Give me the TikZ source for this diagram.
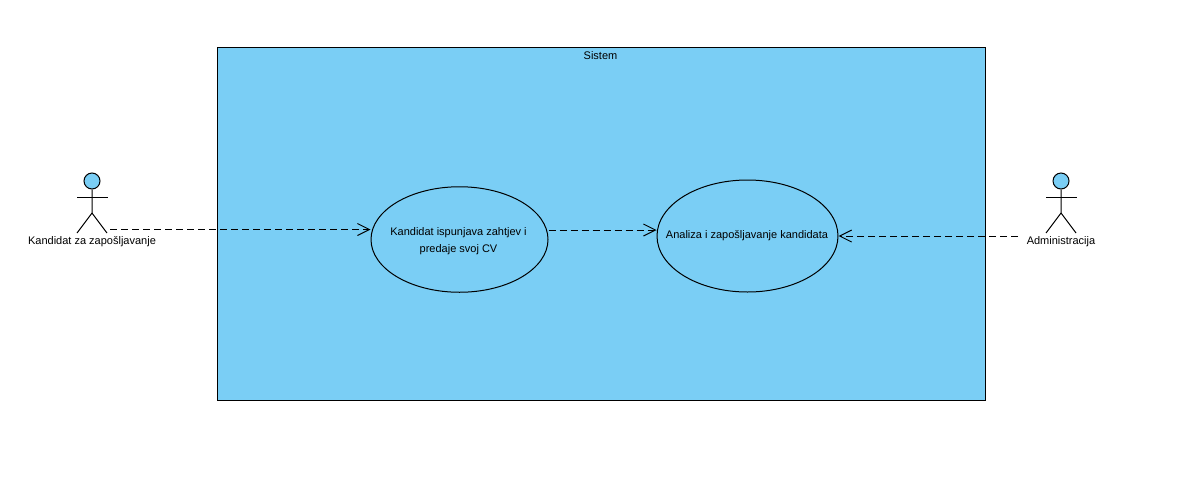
\documentclass[tikz,border=0pt]{standalone}
\usepackage{fontspec}
\setmainfont{Liberation Sans}
\usetikzlibrary{shapes.geometric,arrows.meta}

\begin{document}
\begin{tikzpicture}[x=0.75pt,y=-0.75pt,line width=0.75pt]
    \definecolor{uml_blue}{RGB}{122,206,245}
    \tikzset{
        usecase/.style={shape=ellipse,draw,fill=uml_blue,inner sep=0pt},
        label/.style={font=\fontsize{8.25pt}{12.6pt}\selectfont,inner sep=0pt,align=center},
        head/.style={shape=circle,draw,fill=uml_blue,minimum size=12pt,inner sep=0pt},
        dep/.style={draw,dash pattern=on 5.25pt off 3pt,-{Straight Barb[length=9pt,width=9pt]}}
    }
    \useasboundingbox (0,0) rectangle (1184,486);
    \node[shape=rectangle,draw,fill=uml_blue,minimum width=768*0.75pt,minimum height=353*0.75pt,inner sep=0pt] (system) at (601.5,223.5) {};
    \node[label] (systemname) at (600.5,55.5) {Sistem};
    \node[usecase,minimum width=177*0.75pt,minimum height=105.5*0.75pt] (fill) at (459.5,239.5) {};
    \node[label] (filltext) at (458.5,241.5) {Kandidat ispunjava zahtjev i\\predaje svoj CV};
    \node[usecase,minimum width=181*0.75pt,minimum height=112*0.75pt] (hire) at (747.5,236) {};
    \node[label] (hiretext) at (747,235.5) {Analiza i zapošljavanje kandidata};
    % kandidat
    \node[head] (headA) at (92,181) {};
    \draw (headA.south) -- (92,213) -- (77,233);
    \draw (92,213) -- (107,233);
    \draw (77,197.5) -- (107.5,197.5);
    \node[label] (kandidat) at (92,241.5) {Kandidat za zapošljavanje};
    % administracija
    \node[head] (headB) at (1061,181) {};
    \draw (headB.south) -- (1061,213) -- (1046,233);
    \draw (1061,213) -- (1076,233);
    \draw (1046,197.5) -- (1077,197.5);
    \node[label] (admin) at (1061,241.5) {Administracija};
    % veze
    \coordinate (startA) at (110,229.5);
    \coordinate (startB) at (1018,236);
    \draw[dep] (startA) -- (fill.west |- startA);
    \draw[dep] (fill.east |- 0,230) -- (hire.west |- 0,230);
    \draw[dep] (startB) -- (hire.east);
\end{tikzpicture}
\end{document}
